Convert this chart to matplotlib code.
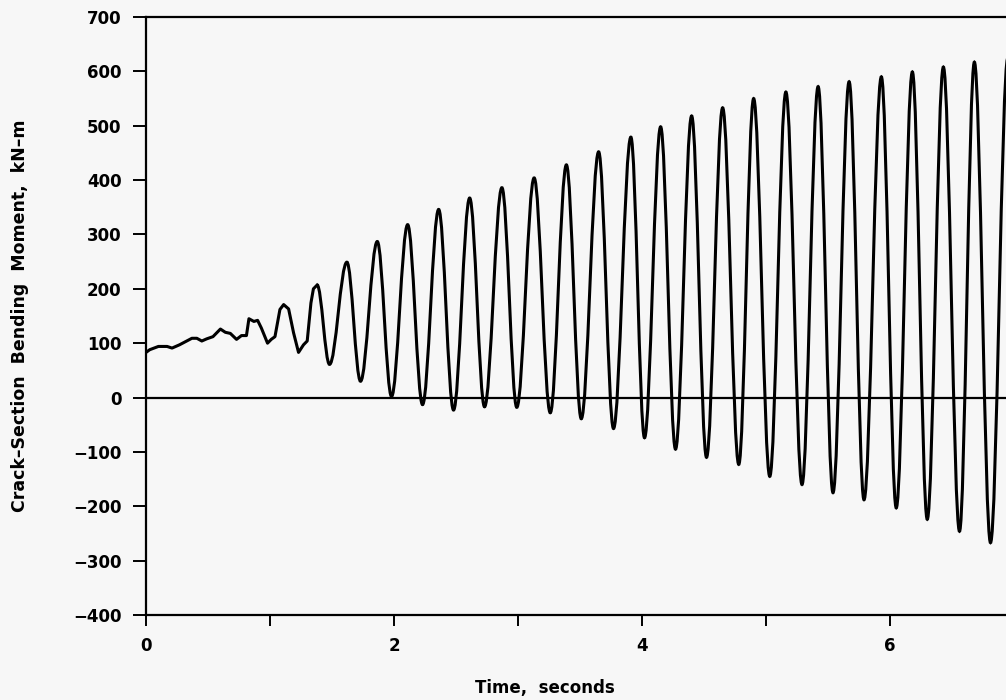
import matplotlib.pyplot as plt
from matplotlib.path import Path
from matplotlib.patches import PathPatch
from matplotlib.ticker import MultipleLocator

# slow ramp / irregular start (t in s, moment in kN-m)
t_early = [0.0, 0.03, 0.10, 0.17, 0.21, 0.27, 0.37, 0.41, 0.45, 0.49, 0.54, 0.60,
           0.64, 0.68, 0.73, 0.77, 0.81, 0.83, 0.87, 0.90, 0.93, 0.98, 1.01, 1.04,
           1.08, 1.11, 1.15, 1.19, 1.23, 1.27, 1.30, 1.33, 1.35, 1.38]
m_early = [83, 88, 94, 94, 91, 97, 109, 109, 104, 108, 112, 126,
           120, 118, 107, 114, 114, 145, 140, 142, 128, 100, 107, 112,
           162, 171, 163, 119, 83, 97, 104, 174, 200, 207]

# peaks and troughs of the oscillating part
t_ext = [1.38, 1.48, 1.62, 1.73, 1.865, 1.98, 2.11, 2.23, 2.36, 2.48, 2.61, 2.73,
         2.87, 2.99, 3.13, 3.26, 3.39, 3.51, 3.65, 3.77, 3.91, 4.02, 4.15, 4.27,
         4.40, 4.52, 4.65, 4.78, 4.90, 5.03, 5.16, 5.29, 5.42, 5.54, 5.67, 5.79,
         5.93, 6.05, 6.18, 6.30, 6.43, 6.56, 6.68, 6.81, 6.95]
m_ext = [207, 61, 249, 30, 287, 2, 318, -13, 346, -23, 367, -17,
         386, -18, 404, -28, 428, -39, 452, -57, 479, -74, 498, -95,
         518, -110, 533, -123, 550, -145, 562, -160, 572, -175, 581, -188,
         590, -203, 599, -224, 608, -246, 617, -267, 625]

bg = '#f7f7f7'
fig = plt.figure(figsize=(10.06, 7.0), dpi=100, facecolor=bg)
ax = fig.add_axes([146/1006, 1-615/700, 860/1006, 598/700], facecolor=bg)

ax.plot(t_early, m_early, color='black', lw=2.2, solid_joinstyle='round')

# smooth curve through the extrema (horizontal tangent at each one)
verts = [(t_ext[0], m_ext[0])]
codes = [Path.MOVETO]
for i in range(1, len(t_ext)):
    t0, m0 = t_ext[i-1], m_ext[i-1]
    t1, m1 = t_ext[i], m_ext[i]
    d = 0.36*(t1 - t0)
    verts += [(t0 + d, m0), (t1 - d, m1), (t1, m1)]
    codes += [Path.CURVE4]*3
ax.add_patch(PathPatch(Path(verts, codes), fill=False, lw=2.2, ec='black'))

ax.axhline(0, color='black', lw=1.6)

ax.set_xlim(0, 6.935)
ax.set_ylim(-400, 700)
ax.xaxis.set_major_locator(MultipleLocator(2))
ax.xaxis.set_minor_locator(MultipleLocator(1))
ax.yaxis.set_major_locator(MultipleLocator(100))

for s in ['left', 'bottom', 'top']:
    ax.spines[s].set_linewidth(1.6)
ax.spines['right'].set_visible(False)

ax.tick_params(axis='x', which='both', direction='out', length=8, width=1.4,
               pad=8, labelsize=12)
ax.tick_params(axis='y', which='major', direction='out', length=9.5, width=1.4,
               pad=8, labelsize=12)
for lab in ax.get_xticklabels() + ax.get_yticklabels():
    lab.set_fontweight('bold')

fig.text(20/1006, 1-316/700, 'Crack\u2013Section  Bending  Moment,  kN\u2013m',
         rotation=90, ha='center', va='center', fontsize=12.5, fontweight='bold')
fig.text(545/1006, 1-688/700, 'Time,  seconds', ha='center', va='center',
         fontsize=12, fontweight='bold')

fig.savefig('out.png', dpi=100, facecolor=bg)
